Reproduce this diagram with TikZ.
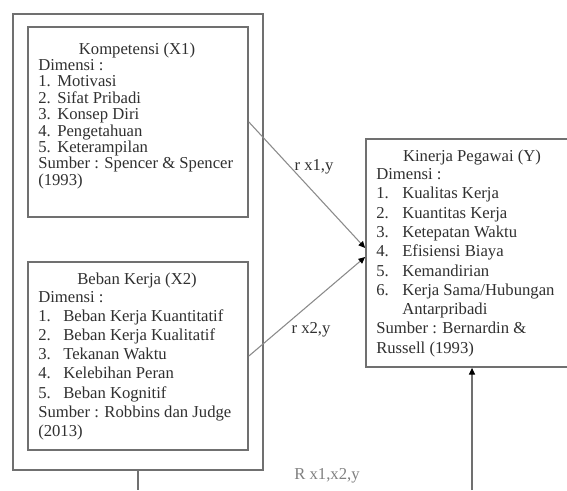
\documentclass[tikz,border=0pt]{standalone}
\usepackage{fontspec}
\setmainfont{Liberation Serif}
\usetikzlibrary{arrows.meta,fit}
\definecolor{txt}{HTML}{303030}
\definecolor{frm}{HTML}{707070}
\definecolor{cn}{HTML}{8A8A8A}
\newcommand{\fsA}{\fontsize{12.5}{12.19}\selectfont}
\newcommand{\fsB}{\fontsize{12.5}{14.33}\selectfont}
\newcommand{\fsC}{\fontsize{12.5}{14.48}\selectfont}
\newcommand{\itm}[3]{\makebox[#1][l]{#2}#3}
\begin{document}
\begin{tikzpicture}[x=0.75pt,y=-0.75pt,
  frame/.style={draw=frm, line width=1.3pt, inner sep=0pt},
  ttl/.style={anchor=base, inner sep=0pt, text=txt, font=\fsB},
  body/.style={anchor=base west, inner sep=0pt, text=txt},
  lbl/.style={anchor=center, inner sep=0pt, text=txt, font=\fsB},
  conn/.style={draw=cn, line width=0.8pt},
  tip/.style={-{Triangle[length=5pt,width=4.5pt,color=black]}}]
\clip (0,0) rectangle (567,490);
\fill[white] (0,0) rectangle (567,490);

% boxes
\node[frame, fit={(13,14)(263,470)}] (outer) {};
\node[frame, fit={(28,27)(248,217)}] (x1) {};
\node[frame, fit={(28,262)(248,450)}] (x2) {};
\node[frame, fit={(366,139)(578,367)}] (y) {};

% box 1 text
\node[ttl] (x1t) at (137,54.5) {Kompetensi (X1)};
\node[body, font=\fsA] (x1b) at (38,70.5) {\begin{tabular}[t]{@{}l@{}}
Dimensi :\\
\itm{14.25pt}{1.}{Motivasi}\\
\itm{14.25pt}{2.}{Sifat Pribadi}\\
\itm{14.25pt}{3.}{Konsep Diri}\\
\itm{14.25pt}{4.}{Pengetahuan}\\
\itm{14.25pt}{5.}{Keterampilan}\\
Sumber : Spencer \& Spencer\\
(1993)
\end{tabular}};

% box 2 text
\node[ttl] (x2t) at (137,284.5) {Beban Kerja (X2)};
\node[body, font=\fsB] (x2b) at (38,302.5) {\begin{tabular}[t]{@{}l@{}}
Dimensi :\\
\itm{18.75pt}{1.}{Beban Kerja Kuantitatif}\\
\itm{18.75pt}{2.}{Beban Kerja Kualitatif}\\
\itm{18.75pt}{3.}{Tekanan Waktu}\\
\itm{18.75pt}{4.}{Kelebihan Peran}\\
\itm{18.75pt}{5.}{Beban Kognitif}\\
Sumber : Robbins dan Judge\\
(2013)
\end{tabular}};

% box Y text
\node[ttl] (yt) at (472,161.5) {Kinerja Pegawai (Y)};
\node[body, font=\fsC] (yb) at (376,179.5) {\begin{tabular}[t]{@{}l@{}}
Dimensi :\\
\itm{19.5pt}{1.}{Kualitas Kerja}\\
\itm{19.5pt}{2.}{Kuantitas Kerja}\\
\itm{19.5pt}{3.}{Ketepatan Waktu}\\
\itm{19.5pt}{4.}{Efisiensi Biaya}\\
\itm{19.5pt}{5.}{Kemandirian}\\
\itm{19.5pt}{6.}{Kerja Sama/Hubungan}\\
\hspace{19.5pt}Antarpribadi\\
Sumber : Bernardin \&\\
Russell (1993)
\end{tabular}};

% connectors
\draw[conn, tip] (x1.east) -- ([yshift=3.75pt]y.west);
\draw[conn, tip] (x2.east) -- ([yshift=-3pt]y.west);
\coordinate (b1) at (138,490);
\coordinate (b2) at (472,490);
\draw[conn, draw=frm] (outer.south) -- (b1);
\draw[conn, draw=frm, tip] (b2) -- (y.south);

% labels
\node[lbl] (l1) at (314,167) {r x1,y};
\node[lbl] (l2) at (311,330) {r x2,y};
\node[lbl, text=gray] (l3) at (327,476) {R x1,x2,y};
\end{tikzpicture}
\end{document}
